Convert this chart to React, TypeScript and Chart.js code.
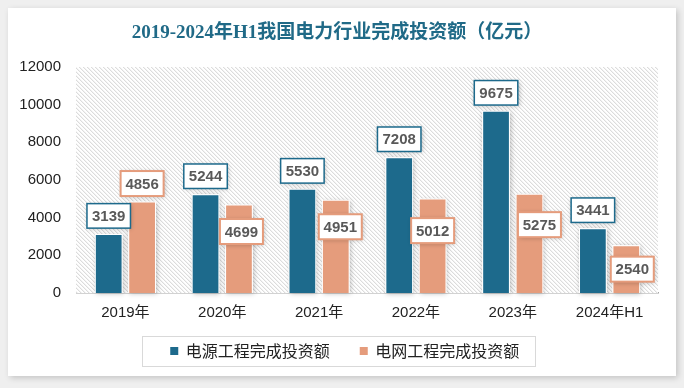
import React, { useEffect, useRef } from "react";
import { Chart, registerables } from "chart.js";

Chart.register(...registerables);

const TITLE = "2019-2024年H1我国电力行业完成投资额（亿元）";
const CATEGORIES = ["2019年", "2020年", "2021年", "2022年", "2023年", "2024年H1"];
const SOURCE_LABEL = "电源工程完成投资额";
const GRID_LABEL = "电网工程完成投资额";
const SOURCE_VALUES = [3139, 5244, 5530, 7208, 9675, 3441];
const GRID_VALUES = [4856, 4699, 4951, 5012, 5275, 2540];
const Y_MIN = 0;
const Y_MAX = 12000;
const Y_STEP = 2000;

// label placement (pixel offsets of the label box centre from the bar top centre)
const SOURCE_LABEL_OFFSETS: [number, number][] = [
  [0, -18], [0, -18], [0, -18], [0, -18], [0, -18], [0, -18],
];
const GRID_LABEL_OFFSETS: [number, number][] = [
  [0, -18], [2.5, 27], [4.5, 27], [0, 32], [10, 31], [6, 24],
];

const BLUE = "#1D6A8C";
const ORANGE = "#E59C7C";
const TITLE_COLOR = "#206A87";
const FONT = "'Liberation Sans', 'Noto Sans CJK SC', sans-serif";
const TITLE_FONT = "'Liberation Serif', 'Noto Sans CJK SC', serif";
const CJK_FONT = "'Noto Sans CJK SC', 'Liberation Sans', sans-serif";

function makeHatch(ctx: CanvasRenderingContext2D): CanvasPattern | string {
  const c = document.createElement("canvas");
  c.width = 4;
  c.height = 4;
  const g = c.getContext("2d");
  if (!g) return "#f4f4f4";
  g.fillStyle = "#ffffff";
  g.fillRect(0, 0, 4, 4);
  g.fillStyle = "#dcdcdc";
  for (let i = 0; i < 4; i++) g.fillRect(i, i, 1, 1);
  g.fillStyle = "#f3f3f3";
  for (let i = 0; i < 4; i++) g.fillRect((i + 1) % 4, i, 1, 1);
  return ctx.createPattern(c, "repeat") || "#f4f4f4";
}

const hatchPlugin = {
  id: "hatchBg",
  beforeDatasetsDraw(chart: any) {
    const { ctx, chartArea } = chart;
    ctx.save();
    ctx.fillStyle = makeHatch(ctx);
    ctx.fillRect(chartArea.left - 1, chartArea.top, chartArea.right - chartArea.left + 1, chartArea.bottom - chartArea.top);
    ctx.restore();
    // bar shadows
    ctx.save();
    ctx.shadowColor = "rgba(0,0,0,0.25)";
    ctx.shadowBlur = 5;
    ctx.shadowOffsetX = 1;
    ctx.shadowOffsetY = 1;
    ctx.fillStyle = "#ffffff";
    chart.data.datasets.forEach((_ds: any, di: number) => {
      const meta = chart.getDatasetMeta(di);
      meta.data.forEach((el: any) => {
        const p = el.getProps(["x", "y", "base", "width"], true);
        ctx.fillRect(p.x - p.width / 2, p.y, p.width, p.base - p.y);
      });
    });
    ctx.restore();
  },
};

const labelPlugin = {
  id: "boxLabels",
  afterDraw(chart: any) {
    const { ctx } = chart;
    const offsets = [SOURCE_LABEL_OFFSETS, GRID_LABEL_OFFSETS];
    const borders = [BLUE, ORANGE];
    const widths = [1.5, 2];
    chart.data.datasets.forEach((ds: any, di: number) => {
      const meta = chart.getDatasetMeta(di);
      meta.data.forEach((el: any, i: number) => {
        const p = el.getProps(["x", "y"], true);
        const [dx, dy] = offsets[di][i];
        const cx = p.x + dx;
        const cy = p.y + dy;
        const lw = widths[di];
        const w = 45 - lw;
        const h = (di === 0 ? 26 : 27) - lw;
        ctx.save();
        ctx.shadowColor = "rgba(0,0,0,0.3)";
        ctx.shadowBlur = 5;
        ctx.shadowOffsetX = 1;
        ctx.shadowOffsetY = 1;
        ctx.fillStyle = "#ffffff";
        ctx.fillRect(cx - w / 2, cy - h / 2, w, h);
        ctx.shadowColor = "transparent";
        ctx.lineWidth = lw;
        ctx.strokeStyle = borders[di];
        ctx.strokeRect(cx - w / 2, cy - h / 2, w, h);
        ctx.fillStyle = "#595959";
        ctx.font = `bold 15px ${FONT}`;
        ctx.textAlign = "center";
        ctx.textBaseline = "middle";
        ctx.fillText(String(ds.data[i]), cx, cy + 1);
        ctx.restore();
      });
    });
  },
};

const legendPlugin = {
  id: "boxLegend",
  afterDraw(chart: any) {
    const { ctx } = chart;
    ctx.save();
    ctx.font = `16px ${CJK_FONT}`;
    const items = chart.data.datasets.map((ds: any) => ({
      text: ds.label as string,
      color: ds.backgroundColor as string,
      w: ctx.measureText(ds.label).width,
    }));
    const padL = 28.5;
    const padR = 15;
    const marker = 8;
    const gapMT = 7.5;
    const gapItems = 30;
    let total = padL + padR;
    items.forEach((it: any, i: number) => {
      total += marker + gapMT + it.w + (i > 0 ? gapItems : 0);
    });
    const centerX = 330;
    const cy = 343;
    const h = 30;
    const left = centerX - total / 2;
    ctx.fillStyle = "#ffffff";
    ctx.fillRect(left, cy - h / 2, total, h);
    ctx.strokeStyle = "#d9d9d9";
    ctx.lineWidth = 1;
    ctx.strokeRect(Math.round(left) + 0.5, cy - h / 2 + 0.5, Math.round(total), h);
    let x = left + padL;
    items.forEach((it: any) => {
      ctx.fillStyle = it.color;
      ctx.fillRect(x, cy - marker / 2, marker, marker);
      x += marker + gapMT;
      ctx.fillStyle = "#222222";
      ctx.textAlign = "left";
      ctx.textBaseline = "middle";
      ctx.fillText(it.text, x, cy);
      x += it.w + gapItems;
    });
    ctx.restore();
  },
};

export default function App() {
  const ref = useRef<HTMLCanvasElement | null>(null);

  useEffect(() => {
    if (!ref.current) return;
    const chart = new Chart(ref.current, {
      type: "bar",
      data: {
        labels: CATEGORIES,
        datasets: [
          {
            label: SOURCE_LABEL,
            data: SOURCE_VALUES,
            backgroundColor: BLUE,
            borderColor: "#ffffff",
            borderWidth: 1,
            categoryPercentage: 0.69,
            barPercentage: 0.83,
          },
          {
            label: GRID_LABEL,
            data: GRID_VALUES,
            backgroundColor: ORANGE,
            borderColor: "#ffffff",
            borderWidth: 1,
            categoryPercentage: 0.69,
            barPercentage: 0.83,
          },
        ],
      },
      options: {
        animation: false,
        responsive: true,
        maintainAspectRatio: false,
        layout: { padding: { left: 8, right: 18, top: 0, bottom: 54 } },
        plugins: {
          legend: { display: false },
          tooltip: { enabled: false },
          title: {
            display: true,
            text: TITLE,
            color: TITLE_COLOR,
            font: { family: TITLE_FONT, size: 19, weight: "bold", lineHeight: 1.2 },
            padding: { top: 13.6, bottom: 22.6 },
          },
        },
        scales: {
          x: {
            grid: { display: false, drawTicks: false },
            border: { display: true, color: "#a6a6a6", width: 1.5 },
            ticks: { color: "#222", font: { family: FONT, size: 15 }, padding: 11 },
            afterFit: (s: any) => {
              s.height = 29;
            },
          },
          y: {
            min: Y_MIN,
            max: Y_MAX,
            grid: { display: false, drawTicks: false },
            border: { display: false },
            ticks: {
              stepSize: Y_STEP,
              color: "#222",
              font: { family: FONT, size: 15 },
              padding: 16,
              callback: (v: any) => String(v),
            },
            afterFit: (s: any) => {
              s.width = 61;
            },
          },
        },
      },
      plugins: [hatchPlugin, labelPlugin, legendPlugin],
    } as any);
    return () => chart.destroy();
  }, []);

  return (
    <div style={{ position: "fixed", left: 0, top: 0, width: 684, height: 388, background: "#efefef" }}>
      <div
        style={{
          position: "absolute",
          left: 8,
          top: 8,
          width: 668,
          height: 368,
          background: "#ffffff",
          boxShadow: "2px 2px 6px rgba(0,0,0,0.18)",
        }}
      >
        <canvas ref={ref} />
      </div>
    </div>
  );
}
